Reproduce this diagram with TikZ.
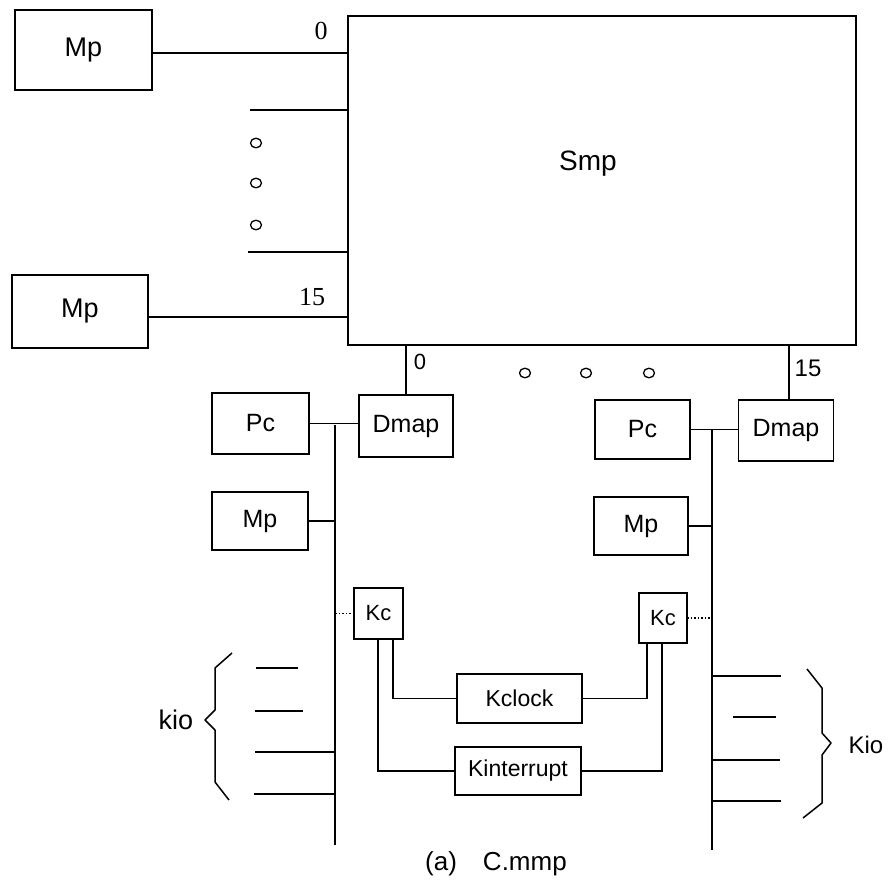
\documentclass[tikz,border=0pt]{standalone}
\usepackage{fontspec}
\setmainfont{Liberation Sans}
\newfontfamily\numfont{Liberation Serif}
\begin{document}
\begin{tikzpicture}[x=1pt,y=-1pt,
  every path/.style={line width=1.5pt},
  box/.style={draw,rectangle,inner sep=0pt,outer sep=0pt,line width=1.5pt},
  big/.style={font=\fontsize{25}{28}\selectfont},
  small/.style={font=\fontsize{22}{24}\selectfont},
  conn/.style={line width=1.5pt},
  dotconn/.style={line width=1.5pt,dotted},
  tick/.style={font=\numfont\fontsize{26}{28}\selectfont},
  dotmark/.style={line width=1.3pt}]
\useasboundingbox (0,0) rectangle (895,892);
% central switch
\node[box,minimum width=508pt,minimum height=329pt] (smp) at (602,180.5) {};
\node[font=\fontsize{28}{30}\selectfont] (smplab) at (588,164) {Smp};
% memories on top
\node[box,font=\fontsize{27}{30}\selectfont,minimum width=137pt,minimum height=80pt] (mp1) at (83.5,50) {Mp};
\node[box,font=\fontsize{27}{30}\selectfont,minimum width=136pt,minimum height=73pt] (mp2) at (80,311.5) {Mp};
\coordinate (m1) at (152,53);
\coordinate (m2) at (148,317);
\draw[conn] (mp1.east |- m1) -- (m1 -| smp.west);
\draw[conn] (mp2.east |- m2) -- (m2 -| smp.west);
\node[tick] (n0a) at (321,31) {0};
\node[tick] (n15a) at (312,297) {15};
\coordinate (p1) at (250,110);
\coordinate (p2) at (248,252);
\draw[conn] (p1) -- (p1 -| smp.west);
\draw[conn] (p2) -- (p2 -| smp.west);
\foreach \yy in {143,183,225} \draw[dotmark] (256,\yy) ellipse (5.5pt and 4.8pt);
% bottom dots
\foreach \xx in {525,586,649} \draw[dotmark] (\xx,373) ellipse (5.5pt and 4.8pt);
% left processor
\node[box,big,minimum width=94pt,minimum height=62pt] (dmap1) at (406,426) {Dmap};
\node[box,big,minimum width=97pt,minimum height=61pt] (pc1) at (260.5,423.5) {Pc};
\node[box,big,minimum width=96pt,minimum height=58pt] (mp3) at (260,521) {Mp};
\node[box,small,minimum width=49pt,minimum height=51pt] (kc1) at (378.5,613.5) {Kc};
\draw[conn] (smp.south -| dmap1.north) -- (dmap1.north);
\node[font=\fontsize{22}{24}\selectfont] (n0b) at (420,362) {0};
\coordinate (b1t) at (335,425);
\coordinate (b1b) at (335,845);
\draw[conn] (b1t) -- (b1b);
\draw[conn] (pc1.east) -- (pc1.east -| dmap1.west);
\draw[conn] (mp3.east) -- (mp3.east -| b1t);
\draw[dotconn] (kc1.west) -- (kc1.west -| b1t);
% right processor
\node[box,big,minimum width=95pt,minimum height=61pt] (dmap2) at (786,430.5) {Dmap};
\node[box,big,minimum width=95pt,minimum height=59pt] (pc2) at (642.5,429.5) {Pc};
\node[box,big,minimum width=94pt,minimum height=58pt] (mp4) at (641,526) {Mp};
\node[box,small,minimum width=48pt,minimum height=50pt] (kc2) at (663,618) {Kc};
\draw[conn] (smp.south -| 789,0) -- (dmap2.north -| 789,0);
\node[font=\fontsize{24}{26}\selectfont] (n15b) at (808,368) {15};
\coordinate (b2t) at (712,430);
\coordinate (b2b) at (712,850);
\draw[conn] (b2t) -- (b2b);
\draw[conn] (pc2.east) -- (pc2.east -| dmap2.west);
\draw[conn] (mp4.east) -- (mp4.east -| b2t);
\draw[dotconn] (kc2.east) -- (kc2.east -| b2t);
% clock and interrupt
\node[box,font=\fontsize{23}{26}\selectfont,minimum width=125pt,minimum height=49pt] (kclock) at (519.5,698.5) {Kclock};
\node[box,font=\fontsize{23}{26}\selectfont,minimum width=126pt,minimum height=48pt] (kint) at (518,771) {Kinterrupt};
\draw[conn] (kc1.south -| 393,0) |- (kclock.west);
\draw[conn] (kc1.south -| 378,0) |- (kint.west);
\draw[conn] (kc2.south -| 647,0) |- (kclock.east);
\draw[conn] (kc2.south -| 662,0) |- (kint.east);
% Kio lines left
\draw[conn] (256,668) -- (298,668);
\draw[conn] (255,711) -- (303,711);
\draw[conn] (255,752) -- (b1t |- 0,752);
\draw[conn] (254,794) -- (b1t |- 0,794);
% Kio lines right
\draw[conn] (b2t |- 0,676) -- (781,676);
\draw[conn] (733,717) -- (776,717);
\draw[conn] (b2t |- 0,760) -- (780,760);
\draw[conn] (b2t |- 0,801) -- (781,801);
% braces
\draw[conn,line join=round] (232,653) -- (215,668) -- (215,710) -- (205,720) -- (215,730) -- (215,782) -- (229,800);
\draw[conn,line join=round] (807,669) -- (822,688) -- (822,733) -- (831,743) -- (822,755) -- (822,803) -- (803,818);
\node[font=\fontsize{27}{30}\selectfont] (kio1) at (176,720) {kio};
\node[font=\fontsize{24}{26}\selectfont] (kio2) at (866,745) {Kio};
% caption
\node[font=\fontsize{26}{30}\selectfont] (cap) at (496,864) {(a)\hspace{26pt}C.mmp};
\end{tikzpicture}
\end{document}
